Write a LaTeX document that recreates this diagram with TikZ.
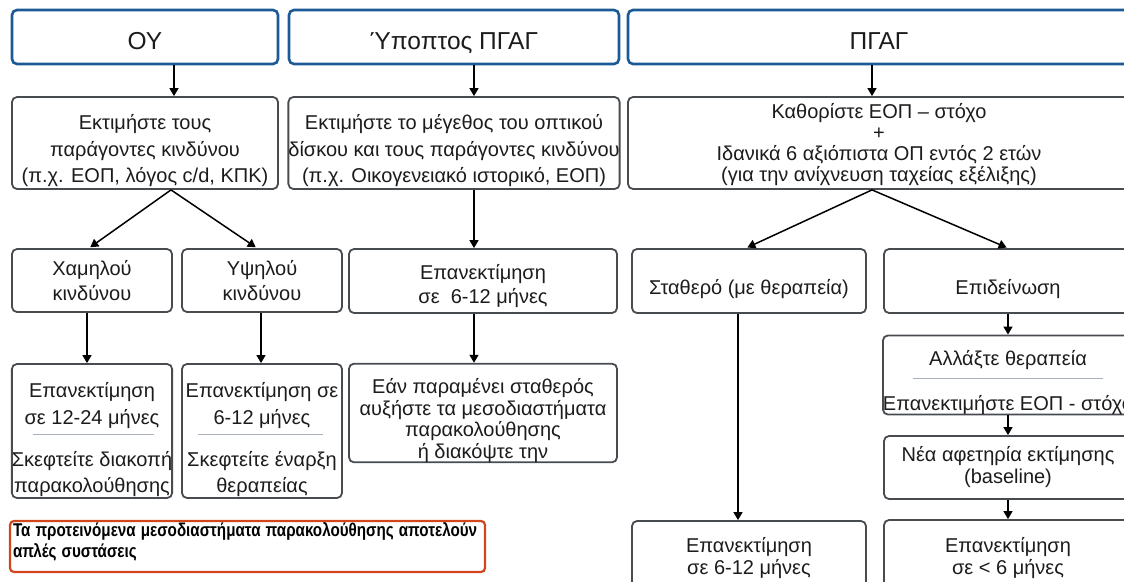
\documentclass[tikz,border=0pt]{standalone}
\usepackage{fontspec}
\usepackage{graphicx}
\setmainfont{Liberation Sans}
\usetikzlibrary{arrows.meta,calc}

\definecolor{hdrblue}{HTML}{1C5A96}
\definecolor{boxgray}{HTML}{484C50}
\definecolor{seprule}{HTML}{A9B2BC}
\definecolor{notered}{HTML}{D1461C}
\definecolor{txt}{HTML}{1C1C1C}

\newcommand{\bodyfont}[1]{\fontsize{20}{#1}\selectfont}
\newcommand{\notefontsetup}{\bfseries\fontsize{18.5}{21}\selectfont}
\newcommand{\notelineone}{Τα προτεινόμενα μεσοδιαστήματα παρακολούθησης αποτελούν}
\newsavebox{\notelinebox}

\tikzset{
  hdr/.style={draw=hdrblue, line width=2.6pt, rounded corners=5pt, fill=white,
    inner sep=0pt, text=txt, text height=24.5pt, text depth=0pt,
    font=\fontsize{24.5}{28}\selectfont},
  stepbox/.style={draw=boxgray, line width=1.8pt, rounded corners=5pt, fill=white,
    inner sep=0pt, align=center, text=txt},
  notebox/.style={draw=notered, line width=2.2pt, rounded corners=4pt, fill=white,
    inner xsep=3pt, inner ysep=0pt, align=left, text=black},
  arr/.style={line width=1.5pt, draw=black, -{Triangle[length=8pt,width=9pt]}},
  sepline/.style={draw=seprule, line width=1pt}
}

\begin{document}
\begin{tikzpicture}[x=1pt, y=-1pt]
\useasboundingbox (0,0) rectangle (1124,581);
\clip (0,0) rectangle (1124,581);

% column headers
\node[hdr, minimum width=266pt, minimum height=54pt] (h1) at (145,37) {ΟΥ};
\node[hdr, minimum width=330pt, minimum height=54pt] (h2) at (454,37) {Ύποπτος ΠΓΑΓ};
\node[hdr, minimum width=502pt, minimum height=54pt] (h3) at (879,37) {ΠΓΑΓ};

% assessment boxes
\node[stepbox, minimum width=266pt, minimum height=92pt, font=\bodyfont{26.5}] (b1) at (145,143)
  {\rule{0pt}{31pt}Εκτιμήστε τους\\παράγοντες κινδύνου\\(π.χ. ΕΟΠ, λόγος c/d, ΚΠΚ)};
\node[stepbox, minimum width=330pt, minimum height=92pt, font=\bodyfont{26.5}] (b2) at (454,143)
  {\rule{0pt}{31pt}Εκτιμήστε το μέγεθος του οπτικού\\δίσκου και τους παράγοντες κινδύνου\\(π.χ. Οικογενειακό ιστορικό, ΕΟΠ)};
\node[stepbox, minimum width=502pt, minimum height=92pt, font=\bodyfont{21}] (b3) at (879,143)
  {\rule{0pt}{19pt}Καθορίστε ΕΟΠ – στόχο\\+\\Ιδανικά 6 αξιόπιστα ΟΠ εντός 2 ετών\\(για την ανίχνευση ταχείας εξέλιξης)};

% risk / status boxes
\node[stepbox, minimum width=160pt, minimum height=63pt, font=\bodyfont{25}] (c1) at (92,280.5)
  {Χαμηλού\\κινδύνου};
\node[stepbox, minimum width=160pt, minimum height=63pt, font=\bodyfont{25}] (c2) at (262,280.5)
  {Υψηλού\\κινδύνου};
\node[stepbox, minimum width=268pt, minimum height=64pt, font=\bodyfont{24}] (c3) at (483,281)
  {\rule{0pt}{25pt}Επανεκτίμηση\\σε~ 6-12 μήνες};
\node[stepbox, minimum width=234pt, minimum height=64pt, font=\bodyfont{24},
  text height=26pt, text depth=0pt] (c4) at (749,281)
  {Σταθερό (με θεραπεία)};
\node[stepbox, minimum width=248pt, minimum height=64pt, font=\bodyfont{24},
  text height=26pt, text depth=0pt] (c5) at (1008,281)
  {Επιδείνωση};

% follow-up boxes, left and middle columns
\node[stepbox, minimum width=160pt, minimum height=134pt, font=\bodyfont{26.5}] (d1) at (92,431)
  {\rule{0pt}{33pt}Επανεκτίμηση\\σε 12-24 μήνες\\[15.5pt]Σκεφτείτε διακοπή\\παρακολούθησης};
\node[stepbox, minimum width=160pt, minimum height=134pt, font=\bodyfont{26.5}] (d2) at (262,431)
  {\rule{0pt}{33pt}Επανεκτίμηση σε\\6-12 μήνες\\[15.5pt]Σκεφτείτε έναρξη\\θεραπείας};
\node[stepbox, minimum width=268pt, minimum height=98pt, font=\bodyfont{21.5}] (d3) at (483,413)
  {\rule{0pt}{30pt}Εάν παραμένει σταθερός\\αυξήστε τα μεσοδιαστήματα\\παρακολούθησης\\ή διακόψτε την};

% right column
\node[stepbox, minimum width=248pt, minimum height=76pt, font=\bodyfont{22}] (e1) at (1008,375)
  {\rule{0pt}{30pt}Αλλάξτε θεραπεία\\[23pt]Επανεκτιμήστε ΕΟΠ - στόχο};
\node[stepbox, minimum width=248pt, minimum height=63pt, font=\bodyfont{22}] (e2) at (1008,467.5)
  {Νέα αφετηρία εκτίμησης\\(baseline)};
\node[stepbox, minimum width=234pt, minimum height=70pt, font=\bodyfont{22}] (f1) at (749,556)
  {\rule{0pt}{19pt}Επανεκτίμηση\\σε 6-12 μήνες};
\node[stepbox, minimum width=248pt, minimum height=72pt, font=\bodyfont{22}] (f2) at (1008,556)
  {\rule{0pt}{19pt}Επανεκτίμηση\\σε < 6 μήνες};

% remark, set in a horizontally condensed bold face
\node[notebox, text width=469pt, minimum height=51pt, font=\notefontsetup] (note) at (247.5,546.5)
  {\sbox{\notelinebox}{\notelineone}%
   \pgfmathsetmacro{\notescale}{464/\the\wd\notelinebox}%
   \scalebox{\notescale}[1]{\notelineone}\\
   \scalebox{\notescale}[1]{απλές συστάσεις}\rule[-12pt]{0pt}{12pt}};

% separators inside the split boxes
\draw[sepline] ($(d1.center)+(-59,3)$) -- ($(d1.center)+(62,3)$);
\draw[sepline] ($(d2.center)+(-64,3)$) -- ($(d2.center)+(61,3)$);
\draw[sepline] ($(e1.center)+(-95,3)$) -- ($(e1.center)+(95,3)$);

% connector columns
\coordinate (x1) at (174,0);
\coordinate (x1b) at (171,0);
\coordinate (x2) at (474,0);
\coordinate (x3) at (872,0);
\coordinate (k1) at (87,0);
\coordinate (k2) at (261,0);
\coordinate (k4) at (738,0);
\coordinate (k5) at (1008,0);

% connectors
\draw[arr] (h1.south -| x1) -- (b1.north -| x1);
\draw[arr] (h2.south -| x2) -- (b2.north -| x2);
\draw[arr] (h3.south -| x3) -- (b3.north -| x3);

\draw[arr, shorten >=1.5pt] (b1.south -| x1b) -- ($(c1.north)+(-3,0)$);
\draw[arr, shorten >=1.5pt] (b1.south -| x1b) -- ($(c2.north)+(-5,0)$);
\draw[arr] (b2.south -| x2) -- (c3.north -| x2);
\draw[arr, shorten >=1.5pt] (b3.south -| x3) -- ($(c4.north)+(-3,0)$);
\draw[arr, shorten >=1.5pt] (b3.south -| x3) -- (c5.north);

\draw[arr] (c1.south -| k1) -- (d1.north -| k1);
\draw[arr] (c2.south -| k2) -- (d2.north -| k2);
\draw[arr] (c3.south -| x2) -- (d3.north -| x2);
\draw[arr] (c4.south -| k4) -- (f1.north -| k4);
\draw[arr] (c5.south -| k5) -- (e1.north -| k5);
\draw[arr] (e1.south -| k5) -- (e2.north -| k5);
\draw[arr] (e2.south -| k5) -- (f2.north -| k5);
\end{tikzpicture}
\end{document}
